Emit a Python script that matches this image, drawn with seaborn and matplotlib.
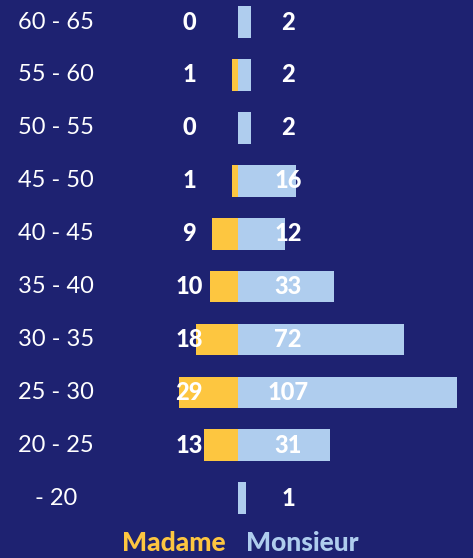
import numpy as np
import pandas as pd
import seaborn as sns
import matplotlib.pyplot as plt
from matplotlib.transforms import blended_transform_factory

ages = ["60 - 65", "55 - 60", "50 - 55", "45 - 50", "40 - 45",
        "35 - 40", "30 - 35", "25 - 30", "20 - 25", "- 20"]
madame = [0, 1, 0, 1, 9, 10, 18, 29, 13, None]
monsieur = [2, 2, 2, 16, 12, 33, 72, 107, 31, 1]

navy = "#1e2271"
yellow = "#fdc640"
blue = "#afcdee"


# bars in the original are not linear: small counts get more room
def fwd(x):
    return np.sign(x) * np.abs(x) ** 0.7


def inv(x):
    return np.sign(x) * np.abs(x) ** (1 / 0.7)


df = pd.DataFrame({"age": ages, "Madame": madame, "Monsieur": monsieur})

sns.set_style("white")
plt.rcParams["font.family"] = ["Lato", "DejaVu Sans"]

fig = plt.figure(figsize=(4.73, 5.58), dpi=100, facecolor=navy)
ax_l = fig.add_axes([0, 0, 238 / 473, 1])
ax_r = fig.add_axes([238 / 473, 0, 235 / 473, 1])

sns.barplot(data=df, y="age", x="Madame", color=yellow, orient="h",
            width=0.6, saturation=1, linewidth=0, ax=ax_l)
sns.barplot(data=df, y="age", x="Monsieur", color=blue, orient="h",
            width=0.6, saturation=1, linewidth=0, ax=ax_r)

for ax in (ax_l, ax_r):
    ax.set_xscale("function", functions=(fwd, inv))
    ax.set_ylim(10.13, -0.416)
    ax.set_facecolor("none")
    ax.axis("off")
ax_l.set_xlim(212, 0)
ax_r.set_xlim(0, 118.6)

# labels go on the figure so they sit above both bar axes
tr = blended_transform_factory(fig.transFigure, ax_l.transData)
for i, (age, f, m) in enumerate(zip(ages, df["Madame"], monsieur)):
    fig.text(56 / 473, i, age, transform=tr, ha="center", va="center",
             color="white", fontsize=17)
    if not pd.isna(f):
        fig.text(189 / 473, i, str(int(f)), transform=tr, ha="center",
                 va="center", color="white", fontsize=17, fontweight="black")
    fig.text(288 / 473, i, str(m), transform=tr, ha="center", va="center",
             color="white", fontsize=17, fontweight="black")

fig.text(174 / 473, 0.026, "Madame", ha="center", va="center",
         color=yellow, fontsize=19, fontweight="black")
fig.text(302 / 473, 0.026, "Monsieur", ha="center", va="center",
         color=blue, fontsize=19, fontweight="black")

fig.savefig("out.png", dpi=100, facecolor=navy)
